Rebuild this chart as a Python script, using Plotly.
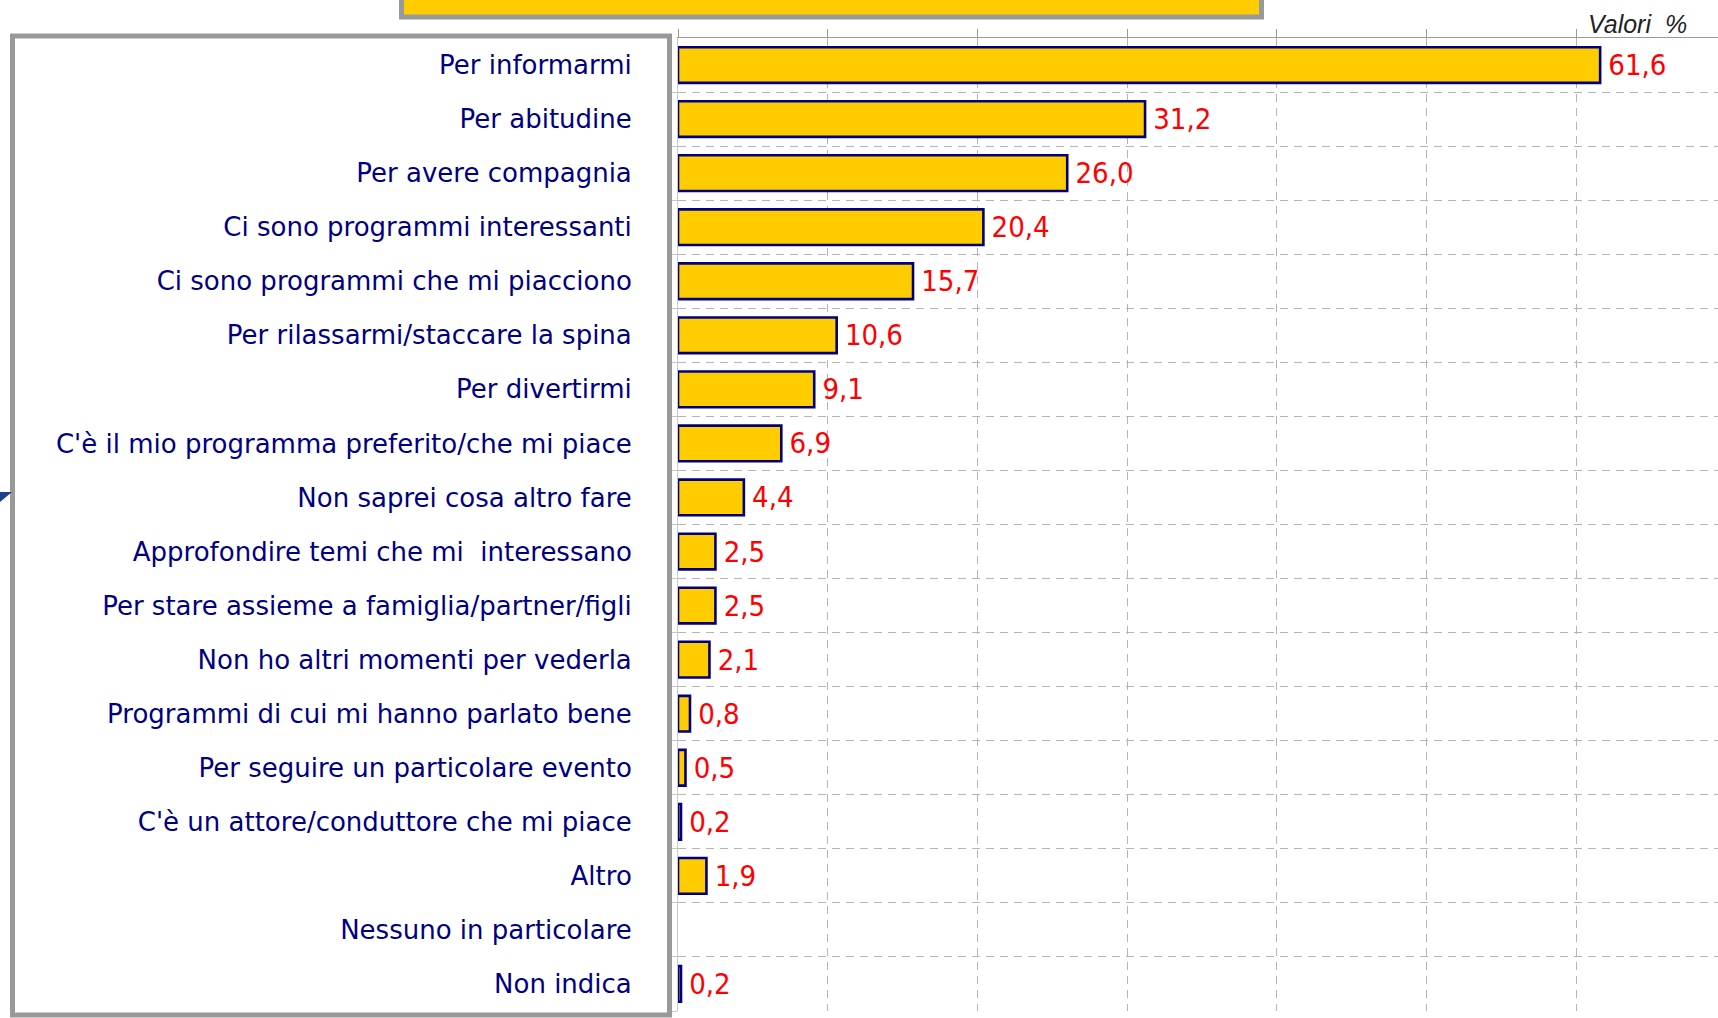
import plotly.graph_objects as go

categories = [
    "Per informarmi",
    "Per abitudine",
    "Per avere compagnia",
    "Ci sono programmi interessanti",
    "Ci sono programmi che mi piacciono",
    "Per rilassarmi/staccare la spina",
    "Per divertirmi",
    "C'è il mio programma preferito/che mi piace",
    "Non saprei cosa altro fare",
    "Approfondire temi che mi  interessano",
    "Per stare assieme a famiglia/partner/figli",
    "Non ho altri momenti per vederla",
    "Programmi di cui mi hanno parlato bene",
    "Per seguire un particolare evento",
    "C'è un attore/conduttore che mi piace",
    "Altro",
    "Nessuno in particolare",
    "Non indica",
]
values = [61.6, 31.2, 26.0, 20.4, 15.7, 10.6, 9.1, 6.9, 4.4, 2.5, 2.5, 2.1, 0.8, 0.5, 0.2, 1.9, None, 0.2]
x_tickvals = [0, 10, 20, 30, 40, 50, 60]
unit_label = "Valori  %"

W, H = 1718, 1018
L, R, T, B = 678, 0, 38, 7
PW, PH = W - L - R, H - T - B


def px_x(x):
    return (x - L) / PW


def px_y(y):
    return 1 - (y - T) / PH


positions = list(range(len(categories)))
n = len(categories)

fig = go.Figure()
fig.add_trace(go.Bar(
    y=positions,
    x=values,
    orientation="h",
    width=0.66,
    marker=dict(color="#FFCC00", line=dict(color="#000080", width=2.6)),
    texttemplate="\u2009%{x:.1f}",
    textposition="outside",
    constraintext="none",
    cliponaxis=False,
    textfont=dict(family="DejaVu Sans Condensed, Liberation Sans Narrow", size=29, color="#FF0000"),
    hoverinfo="skip",
))

shapes = [
    # left label box
    dict(type="rect", xref="paper", yref="paper",
         x0=px_x(12.5), x1=px_x(669.5), y0=px_y(1015), y1=px_y(36),
         line=dict(color="#999999", width=5), fillcolor="white", layer="below"),
    # top title box (cut off)
    dict(type="rect", xref="paper", yref="paper",
         x0=px_x(401.5), x1=px_x(1261.5), y0=px_y(17), y1=px_y(-20),
         line=dict(color="#999999", width=5), fillcolor="#FFCC00", layer="above"),
    # small arrow at left edge
    dict(type="path", xref="paper", yref="paper",
         path=f"M {px_x(0)} {px_y(492)} L {px_x(12)} {px_y(492)} L {px_x(0)} {px_y(502)} Z",
         fillcolor="#1F3F8F", line=dict(width=0)),
]

fig.update_layout(
    width=W, height=H,
    margin=dict(l=L, r=R, t=T, b=B, pad=0),
    paper_bgcolor="white",
    plot_bgcolor="white",
    showlegend=False,
    separators=",.",
    shapes=shapes,
    xaxis=dict(
        side="top",
        range=[0, PW / 14.97],
        tickvals=x_tickvals,
        showticklabels=False,
        ticks="outside",
        ticklen=8,
        tickcolor="#999999",
        tickwidth=1,
        showline=True,
        linecolor="#999999",
        linewidth=1,
        showgrid=True,
        gridcolor="#B4B4B4",
        griddash="8px,6px",
        gridwidth=1,
        zeroline=False,
    ),
    yaxis=dict(
        range=[n - 0.5, -0.5],
        tickvals=positions,
        ticktext=categories,
        ticks="",
        ticklabelstandoff=40,
        tickfont=dict(family="DejaVu Sans", size=26, color="#000080"),
        showgrid=False,
        showline=True,
        linecolor="#C8C8C8",
        linewidth=1,
        zeroline=False,
        minor=dict(
            tickvals=[p + 0.5 for p in positions],
            showgrid=True,
            gridcolor="#B4B4B4",
            griddash="8px,6px",
            gridwidth=1,
            ticks="outside",
            ticklen=5,
            tickcolor="#C8C8C8",
        ),
    ),
    annotations=[
        dict(text=unit_label, xref="paper", yref="paper",
             x=px_x(1586), y=px_y(24), xanchor="left", yanchor="middle",
             showarrow=False,
             font=dict(family="Liberation Sans, Arial", size=25, color="#222222", style="italic")),
    ],
)

fig.write_html(
    "out.html",
    config={"displayModeBar": False},
    post_script="document.body.style.margin='0';document.body.style.overflow='hidden';",
)
